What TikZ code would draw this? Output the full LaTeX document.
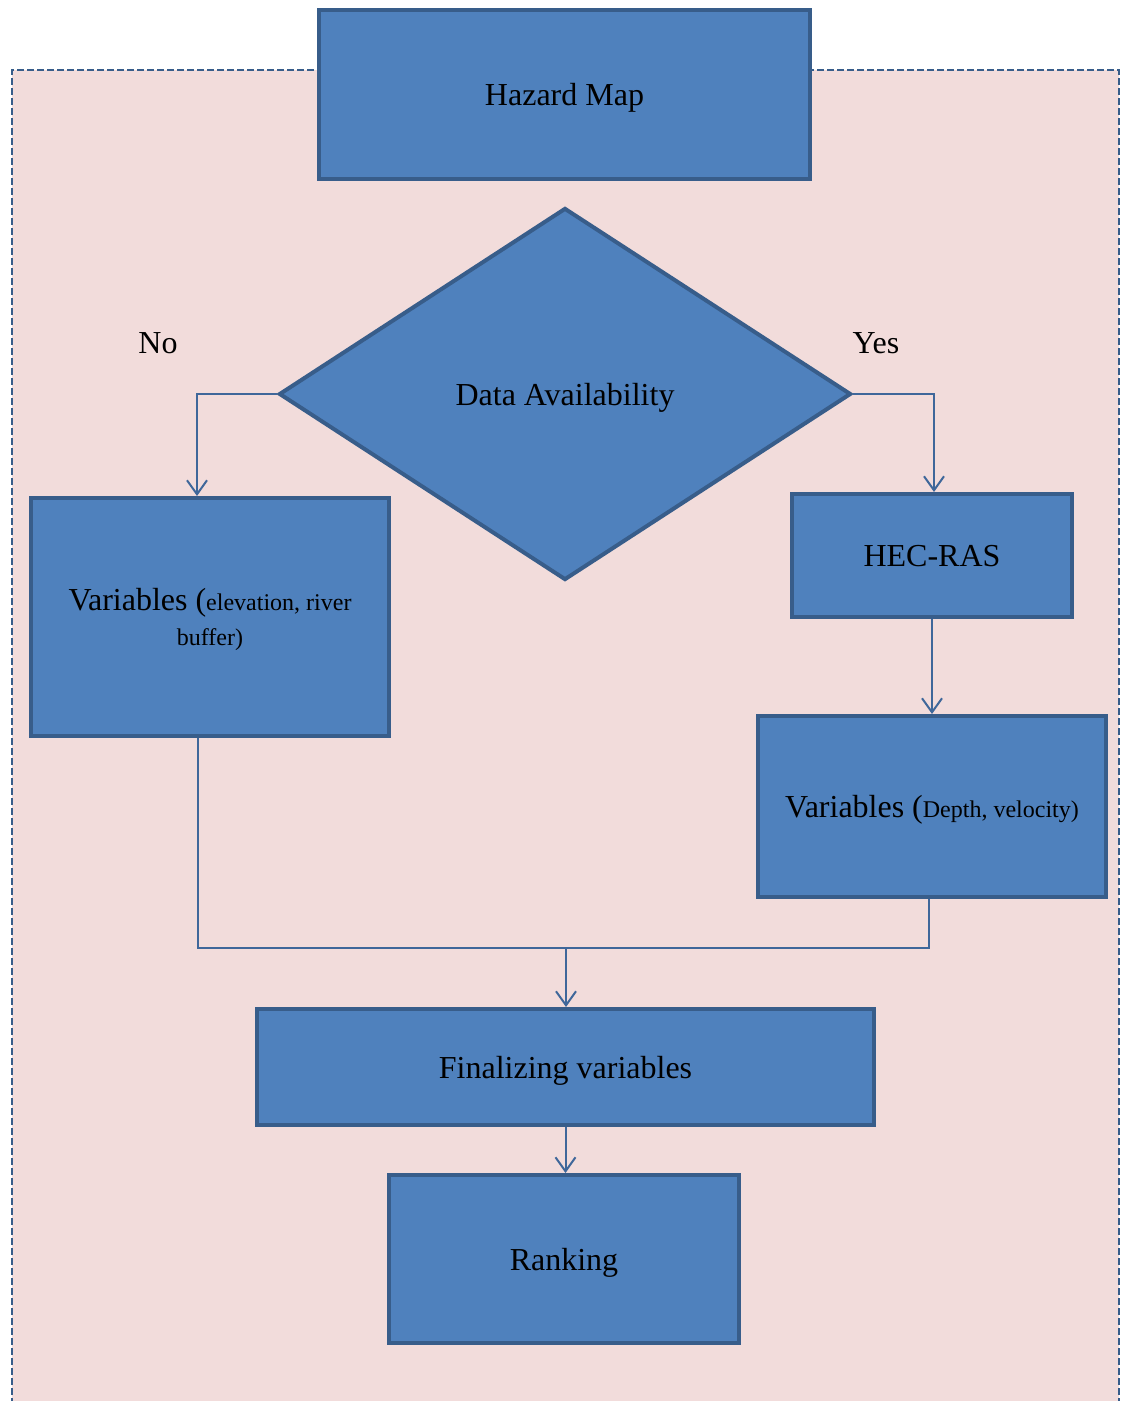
\documentclass[tikz,border=0pt]{standalone}
\usepackage{fontspec}
\setmainfont{Liberation Serif}
\usetikzlibrary{shapes.geometric,arrows.meta}
\definecolor{boxfill}{HTML}{4F81BD}
\definecolor{boxline}{HTML}{385D8A}
\definecolor{bgpink}{HTML}{F2DCDB}
\definecolor{connline}{HTML}{3F679A}
\tikzset{
  box/.style={rectangle, draw=boxline, fill=boxfill, line width=2pt, inner sep=0pt, align=center, text depth=0pt, font=\fontsize{16}{18.5}\selectfont},
  dec/.style={diamond, draw=boxline, fill=boxfill, line width=2pt, inner sep=0pt, text depth=0pt, font=\fontsize{16}{18.5}\selectfont},
  conn/.style={draw=connline, line width=1pt},
  arr/.style={conn, -{Straight Barb[length=7pt,width=10pt,line width=1pt]}},
  lbl/.style={font=\fontsize{16}{18.5}\selectfont, inner sep=0pt}
}
\newcommand{\sm}{\fontsize{12}{18.5}\selectfont}
\begin{document}
\begin{tikzpicture}[x=0.5pt,y=-0.5pt]
\useasboundingbox (0,0) rectangle (1121,1401);
\fill[bgpink] (12,70) rectangle (1119,1405);
\draw[boxline, line width=1pt, dash pattern=on 3.5pt off 1.5pt] (12,1405) -- (12,70) -- (1119,70) -- (1119,1405);

\node[box, minimum width=245.5pt, minimum height=84.5pt] (haz) at (564.5,94.5) {Hazard Map};
\node[dec, minimum width=286pt, minimum height=186pt] (dia) at (565,394) {Data Availability};
\node[lbl] (no) at (158,343) {No};
\node[lbl] (yes) at (876,343) {Yes};
\node[box, minimum width=179pt, minimum height=119pt] (vl) at (210,617) {Variables ({\sm elevation, river}\\[-1pt]{\sm buffer)}};
\node[box, minimum width=140pt, minimum height=61.5pt] (hec) at (932,555.5) {HEC-RAS};
\node[box, minimum width=174pt, minimum height=90.5pt] (vr) at (932,806.5) {Variables ({\sm Depth, velocity)}};
\node[box, minimum width=308.5pt, minimum height=58pt] (fin) at (565.5,1067) {Finalizing variables};
\node[box, minimum width=175pt, minimum height=84pt] (rank) at (564,1259) {Ranking};

\coordinate (lc) at (197,396);
\coordinate (rc) at (934,396);
\draw[arr] (dia.west) -| (lc |- vl.north);
\draw[arr] (dia.east) -| (rc |- hec.north);
\draw[arr] (hec.south) -- (vr.north);
\coordinate (lb) at (198,948);
\coordinate (rb) at (929,948);
\coordinate (m) at (566,948);
\draw[conn] (lb |- vl.south) -- (lb) -- (rb) -- (rb |- vr.south);
\draw[arr] (m) -- (m |- fin.north);
\draw[arr] (fin.south) -- (fin.south |- rank.north);
\end{tikzpicture}
\end{document}
